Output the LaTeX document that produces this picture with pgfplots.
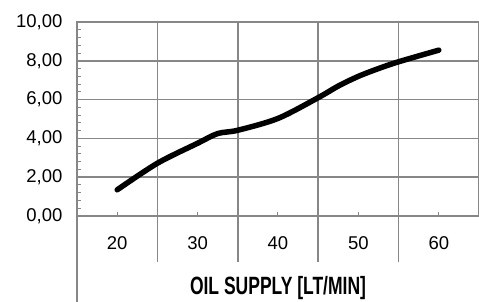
\documentclass[border=0pt]{standalone}
\usepackage{pgfplots}
\pgfplotsset{compat=1.18}
\usepackage{fontspec}
\setmainfont{Liberation Sans}
\newfontfamily\tickfont{Liberation Sans}
\newfontfamily\labfont[FakeStretch=0.7]{Liberation Sans Bold}
\definecolor{gridgray}{RGB}{135,135,135}
\begin{document}
\begin{tikzpicture}
\useasboundingbox (-77pt,-85pt) rectangle (402pt,216pt);
\begin{axis}[
  at={(0,0)}, anchor=south west,
  scale only axis, width=402pt, height=194pt,
  xmin=15, xmax=65, ymin=0, ymax=10,
  clip=false,
  axis line style={gridgray, line width=1.5pt},
  xtick={20,30,40,50,60},
  ytick={0,2,4,6,8,10},
  minor y tick num=4,
  tick align=inside,
  xtick pos=bottom, ytick pos=left,
  major tick length=4pt, minor tick length=4pt,
  tick style={gridgray, line width=1pt},
  ymajorgrids,
  major grid style={gridgray, line width=1.5pt},
  extra x ticks={25,35,45,55},
  extra x tick labels={},
  extra x tick style={grid=major, tick align=outside, major tick length=46pt, tick style={gridgray, line width=1.5pt}},
  /pgf/number format/assume math mode=true,
  yticklabel style={font=\fontsize{18.5}{18.5}\tickfont, xshift=-11pt,
    /pgf/number format/fixed, /pgf/number format/fixed zerofill,
    /pgf/number format/precision=2, /pgf/number format/use comma,
    /pgf/number format/1000 sep={}},
  xticklabel style={font=\fontsize{18.5}{18.5}\tickfont, yshift=-17pt},
  xlabel={OIL SUPPLY [LT/MIN]},
  xlabel style={font=\fontsize{25}{25}\labfont, at={(rel axis cs:0.5,0)}, anchor=center, yshift=-72pt},
]
\draw[gridgray, line width=1.5pt] (rel axis cs:0,0) -- ([yshift=-90pt]rel axis cs:0,0);
\addplot[black, line width=5.5pt, line cap=round, smooth, tension=0.5] coordinates {
  (20,1.35) (25,2.72) (30,3.75) (32.5,4.25) (35,4.42) (40,5.03) (45,6.1)
  (47.5,6.7) (50,7.2) (52.5,7.6) (55,7.95) (60,8.55)
};
\end{axis}
\end{tikzpicture}
\end{document}
